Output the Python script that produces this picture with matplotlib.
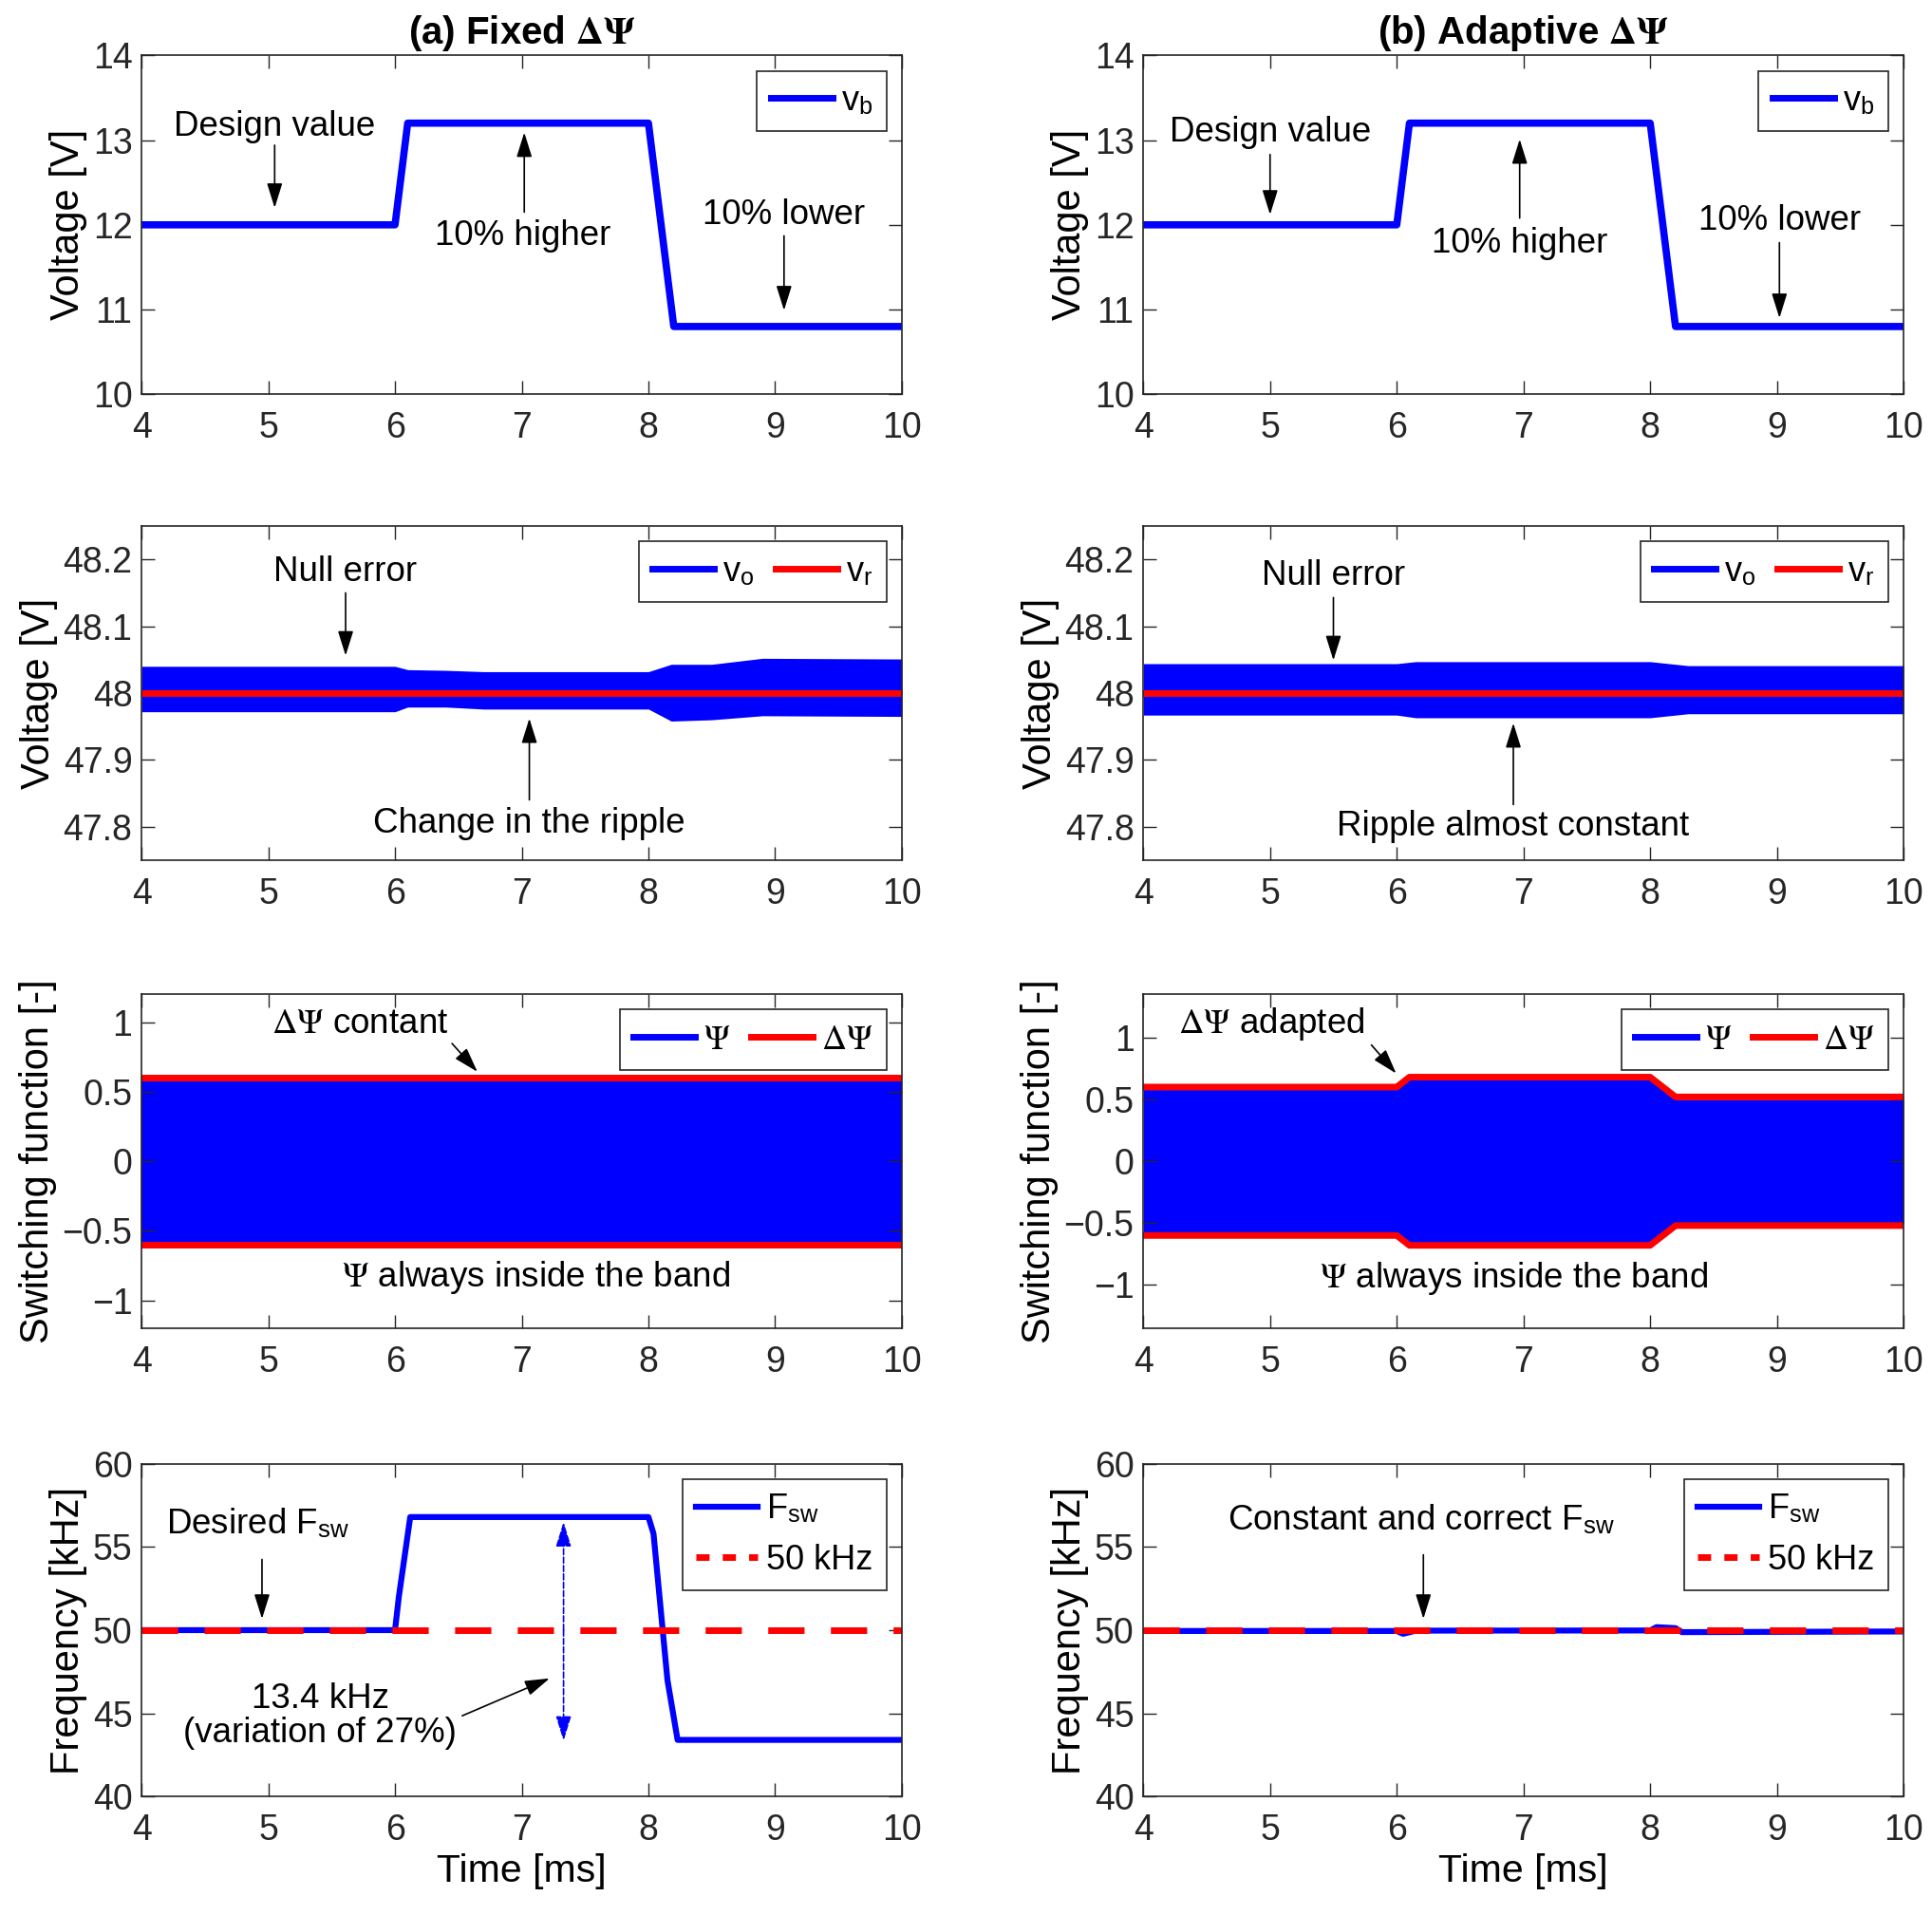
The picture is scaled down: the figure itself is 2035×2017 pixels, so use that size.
import matplotlib
matplotlib.use('Agg')
import matplotlib.pyplot as plt
from matplotlib.lines import Line2D

plt.rcParams['font.family'] = ['Liberation Sans', 'DejaVu Sans']
plt.rcParams['mathtext.fontset'] = 'stix'

# ---- datos ----
t_vb = [4, 6.0, 6.1, 8.0, 8.2, 10]
vb = [12, 12, 13.2, 13.2, 10.8, 10.8]

t_vo_a = [4, 6.0, 6.1, 6.4, 6.7, 8.0, 8.18, 8.5, 8.9, 10]
vo_hi_a = [48.040, 48.040, 48.035, 48.034, 48.032, 48.032, 48.043, 48.043, 48.052, 48.051]
vo_lo_a = [47.972, 47.972, 47.979, 47.979, 47.976, 47.976, 47.958, 47.960, 47.966, 47.965]

t_vo_b = [4, 6.0, 6.15, 8.0, 8.3, 10]
vo_hi_b = [48.044, 48.044, 48.047, 48.047, 48.041, 48.041]
vo_lo_b = [47.967, 47.967, 47.963, 47.963, 47.969, 47.969]

t_vr = [4, 10]
vr = [48, 48]

t_band_a = [4, 10]
band_a = [0.60, 0.60]
psi_a = [0.585, 0.585]

t_band_b = [4, 6.0, 6.1, 8.0, 8.2, 10]
band_b = [0.60, 0.60, 0.68, 0.68, 0.52, 0.52]
psi_b = [0.58, 0.58, 0.66, 0.66, 0.50, 0.50]

t_fsw_a = [4, 6.0, 6.03, 6.12, 8.0, 8.04, 8.15, 8.23, 10]
fsw_a = [50.0, 50.0, 52.0, 56.8, 56.8, 55.8, 47.0, 43.4, 43.4]

t_fsw_b = [4, 6.0, 6.05, 6.15, 8.0, 8.05, 8.2, 8.25, 10]
fsw_b = [49.95, 49.95, 49.78, 49.97, 49.98, 50.18, 50.12, 49.88, 49.92]

t_ref = [4, 10]
f_ref = [50, 50]

titles = ['(a) Fixed $\\mathbf{\\Delta\\Psi}$', '(b) Adaptive $\\mathbf{\\Delta\\Psi}$']

BLUE = '#0000ff'
RED = '#ff0000'
GRAY = '#262626'
FS_TXT = 26.5
FS_TICK = 27

fig = plt.figure(figsize=(20.35, 20.17), dpi=100)

lefts = [0.0733, 0.5918]
w = 0.3935
rows = [(0.7941, 0.1770), (0.5509, 0.1744), (0.3064, 0.1744), (0.0619, 0.1737)]


def estilo(ax, ylim, yticks):
    ax.set_xlim(4, 10)
    ax.set_ylim(*ylim)
    ax.set_xticks(range(4, 11))
    ax.set_yticks(yticks)
    ax.tick_params(direction='in', top=True, right=True, length=10, width=1,
                   labelsize=FS_TICK, colors=GRAY, labelcolor=GRAY)
    ax.tick_params(axis='x', pad=13)
    ax.tick_params(axis='y', pad=7)
    for s in ax.spines.values():
        s.set_color(GRAY)
        s.set_linewidth(1.2)


def flecha(ax, tail, head, color='k', ls='-', style='-|>'):
    ax.annotate('', xy=head, xytext=tail,
                arrowprops=dict(arrowstyle=style + ',head_length=0.8,head_width=0.25',
                                lw=1.2, color=color, linestyle=ls,
                                mutation_scale=20, shrinkA=0, shrinkB=0))


def texto(ax, x, y, s):
    ax.text(x, y, s, ha='center', va='center', fontsize=FS_TXT, color='k')


def leyenda(ax, handles, labels, ncol=1):
    lg = ax.legend(handles, labels, loc='upper right', ncol=ncol, fontsize=26,
                   fancybox=False, framealpha=1, edgecolor=GRAY,
                   borderaxespad=0.45, handlelength=1.8, handletextpad=0.25,
                   columnspacing=0.6, borderpad=0.4)
    lg.get_frame().set_linewidth(1.2)


for c in range(2):
    x0 = lefts[c]
    # fila 1: tension de bateria
    ax = fig.add_axes([x0, rows[0][0], w, rows[0][1]])
    ax.plot(t_vb, vb, color=BLUE, lw=5.5)
    estilo(ax, (10, 14), [10, 11, 12, 13, 14])
    ax.set_ylabel('Voltage [V]', fontsize=30)
    ax.set_title(titles[c], fontsize=29, fontweight='bold', pad=9)
    leyenda(ax, [Line2D([], [], color=BLUE, lw=5)], ['v$_\\mathregular{b}$'])
    if c == 0:
        texto(ax, 5.05, 13.16, 'Design value')
        flecha(ax, (5.05, 12.94), (5.05, 12.2))
        texto(ax, 7.01, 11.87, '10% higher')
        flecha(ax, (7.02, 12.15), (7.02, 13.09))
        texto(ax, 9.07, 12.11, '10% lower')
        flecha(ax, (9.07, 11.87), (9.07, 10.99))
    else:
        texto(ax, 5.0, 13.09, 'Design value')
        flecha(ax, (5.0, 12.83), (5.0, 12.12))
        texto(ax, 6.97, 11.78, '10% higher')
        flecha(ax, (6.97, 12.08), (6.97, 13.01))
        texto(ax, 9.02, 12.05, '10% lower')
        flecha(ax, (9.02, 11.79), (9.02, 10.9))

    # fila 2: tension de salida
    ax = fig.add_axes([x0, rows[1][0], w, rows[1][1]])
    if c == 0:
        ax.fill_between(t_vo_a, vo_lo_a, vo_hi_a, color=BLUE, lw=0)
    else:
        ax.fill_between(t_vo_b, vo_lo_b, vo_hi_b, color=BLUE, lw=0)
    ax.plot(t_vr, vr, color=RED, lw=5)
    estilo(ax, (47.75, 48.25), [47.8, 47.9, 48.0, 48.1, 48.2])
    ax.set_yticklabels(['47.8', '47.9', '48', '48.1', '48.2'])
    ax.set_ylabel('Voltage [V]', fontsize=30)
    leyenda(ax, [Line2D([], [], color=BLUE, lw=5), Line2D([], [], color=RED, lw=5)],
            ['v$_\\mathregular{o}$', 'v$_\\mathregular{r}$'], ncol=2)
    if c == 0:
        texto(ax, 5.61, 48.181, 'Null error')
        flecha(ax, (5.61, 48.15), (5.61, 48.056))
        texto(ax, 7.06, 47.805, 'Change in the ripple')
        flecha(ax, (7.06, 47.84), (7.06, 47.962))
    else:
        texto(ax, 5.5, 48.175, 'Null error')
        flecha(ax, (5.5, 48.143), (5.5, 48.049))
        texto(ax, 6.92, 47.80, 'Ripple almost constant')
        flecha(ax, (6.92, 47.833), (6.92, 47.955))

    # fila 3: funcion de conmutacion
    ax = fig.add_axes([x0, rows[2][0], w, rows[2][1]])
    if c == 0:
        tb, bd, ps = t_band_a, band_a, psi_a
        ylim = (-1.2, 1.2)
    else:
        tb, bd, ps = t_band_b, band_b, psi_b
        ylim = (-1.35, 1.35)
    ax.fill_between(tb, [-p for p in ps], ps, color=BLUE, lw=0)
    ax.plot(tb, bd, color=RED, lw=5)
    ax.plot(tb, [-b for b in bd], color=RED, lw=5)
    estilo(ax, ylim, [-1, -0.5, 0, 0.5, 1])
    ax.set_yticklabels(['\u22121', '\u22120.5', '0', '0.5', '1'])
    ax.set_ylabel('Switching function [-]', fontsize=30)
    leyenda(ax, [Line2D([], [], color=BLUE, lw=5), Line2D([], [], color=RED, lw=5)],
            ['$\\Psi$', '$\\Delta\\Psi$'], ncol=2)
    if c == 0:
        texto(ax, 5.72, 0.986, '$\\Delta\\Psi$ contant')
        flecha(ax, (6.45, 0.846), (6.65, 0.643))
        texto(ax, 7.11, -0.835, '$\\Psi$ always inside the band')
    else:
        texto(ax, 5.01, 1.108, '$\\Delta\\Psi$ adapted')
        flecha(ax, (5.80, 0.94), (5.995, 0.71))
        texto(ax, 6.92, -0.944, '$\\Psi$ always inside the band')

    # fila 4: frecuencia de conmutacion
    ax = fig.add_axes([x0, rows[3][0], w, rows[3][1]])
    if c == 0:
        ax.plot(t_fsw_a, fsw_a, color=BLUE, lw=4.5)
    else:
        ax.plot(t_fsw_b, fsw_b, color=BLUE, lw=4.5)
    ax.plot(t_ref, f_ref, color=RED, lw=5, linestyle=(0, (5.5, 4)))
    estilo(ax, (40, 60), [40, 45, 50, 55, 60])
    ax.set_ylabel('Frequency [kHz]', fontsize=30)
    ax.set_xlabel('Time [ms]', fontsize=29.5, labelpad=4)
    leyenda(ax, [Line2D([], [], color=BLUE, lw=4.5),
                 Line2D([], [], color=RED, lw=5, linestyle=(0, (2.0, 2.0)))],
            ['F$_\\mathregular{sw}$', '50 kHz'])
    if c == 0:
        texto(ax, 4.92, 56.4, 'Desired F$_\\mathregular{sw}$')
        flecha(ax, (4.95, 54.25), (4.95, 50.68))
        ax.text(5.41, 44.85, '13.4 kHz\n(variation of 27%)', ha='center', va='center',
                fontsize=FS_TXT, linespacing=1.05)
        flecha(ax, (6.53, 44.85), (7.22, 47.1))
        flecha(ax, (7.33, 50.0), (7.33, 56.5), color=BLUE, ls='--')
        flecha(ax, (7.33, 50.0), (7.33, 43.35), color=BLUE, ls='--')
    else:
        texto(ax, 6.19, 56.6, 'Constant and correct F$_\\mathregular{sw}$')
        flecha(ax, (6.21, 54.53), (6.21, 50.68))

fig.savefig('out.png', dpi=100)
